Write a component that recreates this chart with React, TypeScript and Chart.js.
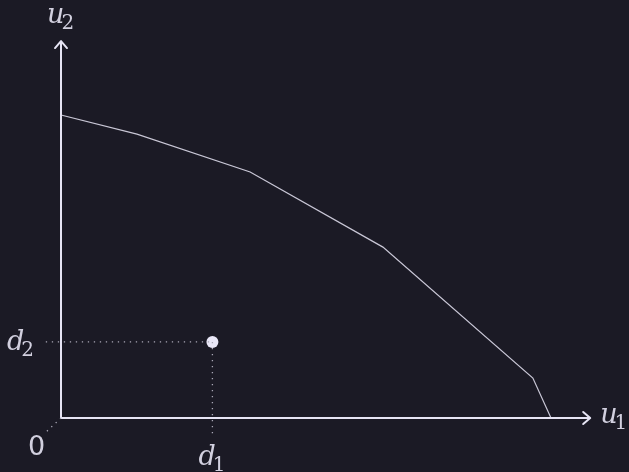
import { useEffect, useRef } from "react";
import { Chart, registerables } from "chart.js";

Chart.register(...registerables);

// Utility frontier (u1, u2) and the disagreement point d = (d1, d2)
const frontierU1 = [0, 1.55, 3.86, 6.57, 9.63, 10];
const frontierU2 = [10, 9.37, 8.12, 5.64, 1.32, 0];
const disagreementPoint = [3.09, 2.51];

// Axis extents (arrow tips) and visible data window
const axisTipU1 = 10.8;
const axisTipU2 = 12.44;
const xRange = [-1.245, 11.592];
const yRange = [-1.782, 13.795];

// Where the dotted guide lines run out beyond the axes
const guideLeftU1 = -0.31;
const guideBelowU2 = -0.5;
const originGuideEnd = [-0.33, -0.5];

const BG = "#1b1a25";
const AXIS = "#e6e4f4";
const CURVE = "#c9c7d6";
const DOT = "#e9e7f7";
const GUIDE = "#a9a7b6";
const TEXT = "#d2d0df";

const MATH_FONT = '"DejaVu Serif", "Liberation Serif", serif';

function App() {
  const canvasRef = useRef<HTMLCanvasElement | null>(null);

  useEffect(() => {
    const canvas = canvasRef.current;
    if (!canvas) return;

    const background = {
      id: "background",
      beforeDraw(chart: Chart) {
        const { ctx, width, height } = chart;
        ctx.save();
        ctx.fillStyle = BG;
        ctx.fillRect(0, 0, width, height);
        ctx.restore();
      },
    };

    const arrowsAndLabels = {
      id: "arrowsAndLabels",
      afterDatasetsDraw(chart: Chart) {
        const { ctx } = chart;
        const xs = chart.scales.x;
        const ys = chart.scales.y;
        const ox = xs.getPixelForValue(0);
        const oy = ys.getPixelForValue(0);
        const tipX = xs.getPixelForValue(axisTipU1);
        const tipY = ys.getPixelForValue(axisTipU2);

        ctx.save();
        ctx.strokeStyle = AXIS;
        ctx.lineWidth = 2;
        ctx.lineCap = "round";
        ctx.lineJoin = "round";
        // arrowhead on u1 axis
        ctx.beginPath();
        ctx.moveTo(tipX - 7, oy - 6);
        ctx.lineTo(tipX, oy);
        ctx.lineTo(tipX - 7, oy + 6);
        ctx.stroke();
        // arrowhead on u2 axis
        ctx.beginPath();
        ctx.moveTo(ox - 6, tipY + 7);
        ctx.lineTo(ox, tipY);
        ctx.lineTo(ox + 6, tipY + 7);
        ctx.stroke();

        const drawSub = (
          base: string,
          sub: string,
          x: number,
          baseline: number
        ) => {
          ctx.font = `italic 27px ${MATH_FONT}`;
          ctx.textAlign = "left";
          ctx.textBaseline = "alphabetic";
          ctx.fillStyle = TEXT;
          ctx.fillText(base, x, baseline);
          const w = ctx.measureText(base).width;
          ctx.font = `20px ${MATH_FONT}`;
          ctx.fillText(sub, x + w - 3, baseline + 6);
        };

        const px = xs.getPixelForValue(disagreementPoint[0]);
        const py = ys.getPixelForValue(disagreementPoint[1]);

        drawSub("u", "2", ox - 14, tipY - 18);
        drawSub("u", "1", tipX + 10, oy + 5);
        drawSub("d", "2", ox - 54, py + 8);
        drawSub("d", "1", px - 14, oy + 47);

        ctx.font = `27px "DejaVu Sans", sans-serif`;
        ctx.fillStyle = TEXT;
        ctx.fillText("0", ox - 33, oy + 37);
        ctx.restore();
      },
    };

    const dotted = {
      borderColor: GUIDE,
      borderWidth: 1.3,
      borderDash: [1.3, 4.7],
      pointRadius: 0,
      showLine: true,
      fill: false,
    };

    const chart = new Chart(canvas, {
      type: "scatter",
      data: {
        datasets: [
          {
            label: "d2 guide",
            data: [
              { x: guideLeftU1, y: disagreementPoint[1] },
              { x: disagreementPoint[0], y: disagreementPoint[1] },
            ],
            ...dotted,
          },
          {
            label: "d1 guide",
            data: [
              { x: disagreementPoint[0], y: disagreementPoint[1] },
              { x: disagreementPoint[0], y: guideBelowU2 },
            ],
            ...dotted,
          },
          {
            label: "origin guide",
            data: [
              { x: 0, y: 0 },
              { x: originGuideEnd[0], y: originGuideEnd[1] },
            ],
            ...dotted,
          },
          {
            label: "u1 axis",
            data: [
              { x: 0, y: 0 },
              { x: axisTipU1, y: 0 },
            ],
            showLine: true,
            borderColor: AXIS,
            borderWidth: 2,
            pointRadius: 0,
          },
          {
            label: "u2 axis",
            data: [
              { x: 0, y: 0 },
              { x: 0, y: axisTipU2 },
            ],
            showLine: true,
            borderColor: AXIS,
            borderWidth: 2,
            pointRadius: 0,
          },
          {
            label: "frontier",
            data: frontierU1.map((u, i) => ({ x: u, y: frontierU2[i] })),
            showLine: true,
            borderColor: CURVE,
            borderWidth: 1.2,
            pointRadius: 0,
            tension: 0,
          },
          {
            label: "d",
            data: [{ x: disagreementPoint[0], y: disagreementPoint[1] }],
            pointRadius: 6,
            pointBackgroundColor: DOT,
            pointBorderWidth: 0,
            borderColor: DOT,
          },
        ],
      },
      options: {
        responsive: false,
        animation: false,
        devicePixelRatio: 1,
        layout: { padding: 0, autoPadding: false },
        plugins: {
          legend: { display: false },
          tooltip: { enabled: false },
        },
        scales: {
          x: { type: "linear", display: false, min: xRange[0], max: xRange[1] },
          y: { type: "linear", display: false, min: yRange[0], max: yRange[1] },
        },
      },
      plugins: [background, arrowsAndLabels],
    });

    return () => chart.destroy();
  }, []);

  return (
    <div style={{ position: "fixed", left: 0, top: 0, width: 629, height: 472, background: BG }}>
      <canvas ref={canvasRef} width={629} height={472} style={{ display: "block" }} />
    </div>
  );
}

export default App;
